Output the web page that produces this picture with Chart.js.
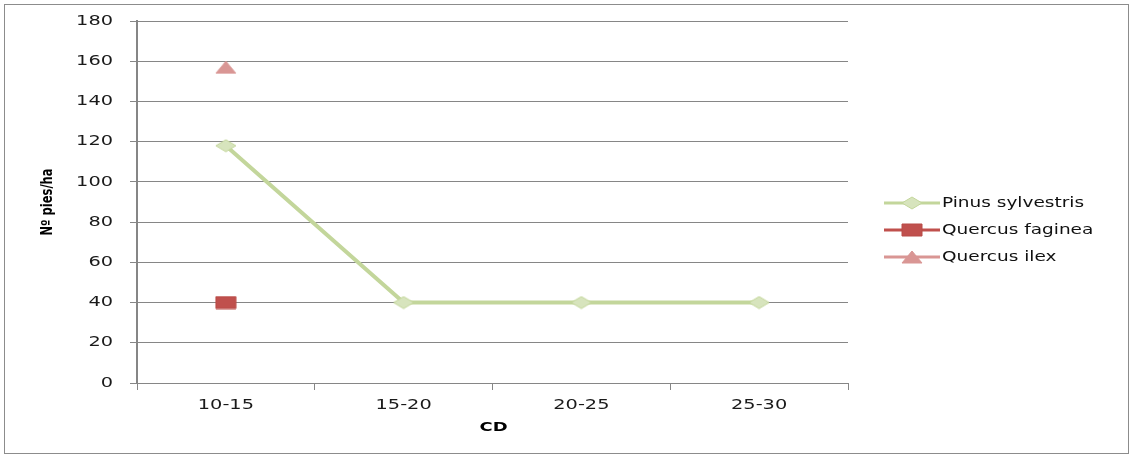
<!DOCTYPE html>
<html>
<head>
<meta charset="utf-8">
<script src="https://cdn.jsdelivr.net/npm/chart.js@4"></script>
<style>
  html, body { margin: 0; padding: 0; background: #fff; }
  #wrap { position: relative; width: 1131px; height: 457px; }
  #frame { position: absolute; left: 4px; top: 4px; width: 1123px; height: 448px; border: 1px solid #8c8c8c; pointer-events: none; }
  canvas { position: absolute; left: 0; top: 0; }
</style>
</head>
<body>
<div id="wrap">
  <canvas id="chart" width="1131" height="457"></canvas>
  <div id="frame"></div>
</div>
<script>
var categories = ['10-15', '15-20', '20-25', '25-30'];
var pinusSylvestris = [118, 40, 40, 40];
var quercusFaginea = [40, null, null, null];
var quercusIlex = [157, null, null, null];

var WIDE = 1.38; // horizontal stretch of all lettering

// wide, flat markers drawn once on small canvases
function marker(shape, fill, stroke) {
    var c = document.createElement('canvas');
    c.width = 22; c.height = 14;
    var g = c.getContext('2d');
    g.fillStyle = fill;
    g.strokeStyle = stroke;
    g.lineWidth = 1;
    g.beginPath();
    if (shape === 'diamond') {
        g.moveTo(1, 7); g.lineTo(11, 1); g.lineTo(21, 7); g.lineTo(11, 13); g.closePath();
    } else if (shape === 'square') {
        g.rect(1, 1, 20, 12);
    } else {
        g.moveTo(11, 1); g.lineTo(21, 13); g.lineTo(1, 13); g.closePath();
    }
    g.fill();
    g.stroke();
    return c;
}

var diamond = marker('diamond', '#d7e4bd', '#c3d69b');
var square = marker('square', '#c0504d', '#b84a47');
var triangle = marker('triangle', '#d99694', '#d99694');

function wideText(ctx, text, x, y, align, sx, angle) {
    ctx.save();
    ctx.translate(x, y);
    ctx.scale(sx, 1);
    if (angle) ctx.rotate(angle);
    ctx.textAlign = align;
    ctx.textBaseline = 'middle';
    ctx.fillText(text, 0, 0);
    ctx.restore();
}

// tick labels, axis titles and the legend on the right
var extras = {
    id: 'extras',
    afterDraw: function(chart) {
        var ctx = chart.ctx;
        var area = chart.chartArea;
        var xs = chart.scales.x, ys = chart.scales.y;
        ctx.save();
        ctx.fillStyle = '#1a1a1a';
        ctx.font = '14px "DejaVu Sans"';
        ys.ticks.forEach(function(t, i) {
            wideText(ctx, String(t.value), 113, ys.getPixelForTick(i), 'right', WIDE);
        });
        xs.ticks.forEach(function(t, i) {
            wideText(ctx, categories[t.value], xs.getPixelForTick(i), 405, 'center', WIDE);
        });

        ctx.fillStyle = '#000';
        ctx.font = 'bold 13px "DejaVu Sans"';
        wideText(ctx, 'CD', (area.left + area.right) / 2 + 1, 428, 'center', WIDE);

        ctx.font = 'bold 11.5px "DejaVu Sans"';
        wideText(ctx, 'Nº pies/ha', 48, (area.top + area.bottom) / 2, 'center', WIDE, -Math.PI / 2);

        var rows = [203, 230, 257];
        ctx.font = '14px "DejaVu Sans"';
        ctx.fillStyle = '#111';
        chart.data.datasets.forEach(function(ds, i) {
            var y = rows[i];
            ctx.strokeStyle = ds.borderColor;
            ctx.lineWidth = 3;
            ctx.beginPath();
            ctx.moveTo(884, y);
            ctx.lineTo(940, y);
            ctx.stroke();
            ctx.drawImage(ds.pointStyle, 901, y - 7);
            wideText(ctx, ds.label, 942, y, 'left', 1.32);
        });
        ctx.restore();
    }
};

new Chart(document.getElementById('chart').getContext('2d'), {
    type: 'line',
    data: {
        labels: categories,
        datasets: [{
            label: 'Pinus sylvestris',
            data: pinusSylvestris,
            borderColor: '#c3d69b',
            borderWidth: 4,
            pointStyle: diamond
        }, {
            label: 'Quercus faginea',
            data: quercusFaginea,
            borderColor: '#c0504d',
            borderWidth: 3,
            pointStyle: square
        }, {
            label: 'Quercus ilex',
            data: quercusIlex,
            borderColor: '#d99694',
            borderWidth: 3,
            pointStyle: triangle
        }]
    },
    options: {
        responsive: false,
        animation: false,
        layout: { padding: { top: 21, right: 283, left: 0, bottom: 0 } },
        plugins: {
            legend: { display: false },
            tooltip: { enabled: false }
        },
        scales: {
            x: {
                offset: true,
                afterFit: function(scale) { scale.height = 74; },
                grid: {
                    offset: true,
                    drawOnChartArea: false,
                    drawTicks: true,
                    tickLength: 7,
                    color: '#868686',
                    lineWidth: 1
                },
                border: { color: '#868686', width: 1 },
                ticks: { color: 'rgba(0,0,0,0)' }
            },
            y: {
                min: 0,
                max: 180,
                afterFit: function(scale) { scale.width = 137; },
                grid: {
                    color: '#868686',
                    lineWidth: 1,
                    tickLength: 7
                },
                border: { color: '#868686', width: 2 },
                ticks: { stepSize: 20, color: 'rgba(0,0,0,0)' }
            }
        }
    },
    plugins: [extras]
});
</script>
</body>
</html>
